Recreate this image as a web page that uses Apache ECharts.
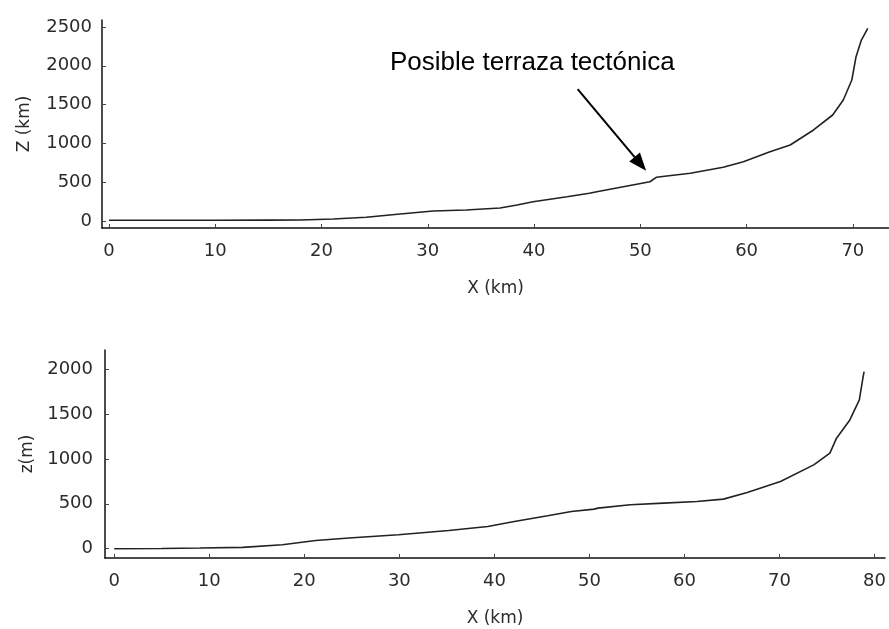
<!DOCTYPE html>
<html>
<head>
<meta charset="utf-8">
<script src="https://cdn.jsdelivr.net/npm/echarts@6/dist/echarts.min.js"></script>
<style>
  html, body { margin: 0; padding: 0; background: #fff; }
  #chart { width: 889px; height: 629px; }
</style>
</head>
<body>
<div id="chart"></div>
<script>
// Longitudinal profile 1: distance along the channel (km) and elevation
const profileTopX = [0, 5, 10, 15, 18.0, 21.1, 24.2, 27.4, 30.5, 33.6, 36.8, 38.4, 39.9, 43.1, 45.2, 45.9, 48.4, 50.9, 51.5, 54.7, 57.8, 59.7, 62.2, 64.1, 66.3, 68.1, 69.1, 69.9, 70.3, 70.8, 71.4];
const profileTopZ = [10, 10, 10, 11, 13, 26, 48, 90, 129, 142, 168, 206, 249, 313, 357, 378, 442, 506, 563, 615, 692, 764, 893, 979, 1173, 1366, 1559, 1817, 2117, 2332, 2483];

// Longitudinal profile 2
const profileBottomX = [0, 5, 9.0, 13.5, 17.7, 21.2, 24.7, 29.9, 35.2, 39.3, 42.1, 45.6, 48.1, 50.5, 50.9, 54.3, 57.8, 61.3, 64.1, 66.6, 70.1, 73.6, 75.3, 76.0, 77.4, 78.4, 78.8, 78.9];
const profileBottomZ = [0, 3, 8, 15, 44, 92, 119, 156, 203, 248, 303, 367, 414, 441, 452, 489, 508, 526, 552, 626, 748, 933, 1063, 1230, 1433, 1656, 1915, 1970];

// Tick values
const topXTicks = [0, 10, 20, 30, 40, 50, 60, 70];
const topZTicks = [0, 500, 1000, 1500, 2000, 2500];
const bottomXTicks = [0, 10, 20, 30, 40, 50, 60, 70, 80];
const bottomZTicks = [0, 500, 1000, 1500, 2000];

// Annotation of the knickpoint
const noteText = 'Posible terraza tectónica';
const arrowFrom = [44.1, 1700];
const arrowTo = [50.0, 735];

const pair = (xs, ys) => xs.map((x, i) => [x, ys[i]]);

const labelStyle = { color: '#2b2b2b', fontFamily: 'DejaVu Sans', fontSize: 18, formatter: v => String(v) };
const nameStyle = { color: '#2b2b2b', fontFamily: 'DejaVu Sans', fontSize: 17 };

function xAxisCfg(gridIndex, min, max, ticks, gap, margin) {
  return {
    type: 'value', gridIndex, min, max,
    name: 'X (km)', nameLocation: 'middle', nameGap: gap, nameTextStyle: nameStyle,
    axisLine: { show: true, onZero: false, lineStyle: { color: '#111', width: 1.5 } },
    axisTick: { show: true, inside: true, length: 4, customValues: ticks, lineStyle: { color: '#444' } },
    axisLabel: { customValues: ticks, margin, ...labelStyle },
    splitLine: { show: false }
  };
}
function yAxisCfg(gridIndex, min, max, ticks, name, gap, margin) {
  return {
    type: 'value', gridIndex, min, max,
    name, nameLocation: 'middle', nameGap: gap, nameTextStyle: nameStyle,
    axisLine: { show: true, onZero: false, lineStyle: { color: '#111', width: 1.5 } },
    axisTick: { show: true, inside: true, length: 4, customValues: ticks, lineStyle: { color: '#444' } },
    axisLabel: { customValues: ticks, margin, ...labelStyle },
    splitLine: { show: false }
  };
}

const chart = echarts.init(document.getElementById('chart'), null, { renderer: 'canvas' });
chart.setOption({
  animation: false,
  backgroundColor: '#fff',
  grid: [
    { left: 102, top: 20, right: 0, bottom: 401, containLabel: false },
    { left: 105, top: 350, right: 0, bottom: 71, containLabel: false }
  ],
  xAxis: [
    xAxisCfg(0, -0.66, 73.4, topXTicks, 52, 14),
    xAxisCfg(1, -0.97, 81.1, bottomXTicks, 52, 14)
  ],
  yAxis: [
    yAxisCfg(0, -90, 2590, topZTicks, 'Z (km)', 69, 10),
    yAxisCfg(1, -103, 2211, bottomZTicks, 'z(m)', 69, 12)
  ],
  graphic: [{
    type: 'text', left: 390, top: 50,
    style: { text: noteText, fill: '#000', font: '26px "Liberation Sans", Arial, sans-serif' }
  }],
  series: [
    {
      type: 'line', xAxisIndex: 0, yAxisIndex: 0, data: pair(profileTopX, profileTopZ),
      showSymbol: false, lineStyle: { color: '#222', width: 1.6 },
      markLine: {
        silent: true, symbol: ['none', 'triangle'], symbolSize: [14, 18],
        lineStyle: { color: '#000', width: 2, type: 'solid' },
        label: { show: false },
        data: [[{ coord: arrowFrom }, { coord: arrowTo }]]
      }
    },
    {
      type: 'line', xAxisIndex: 1, yAxisIndex: 1, data: pair(profileBottomX, profileBottomZ),
      showSymbol: false, lineStyle: { color: '#222', width: 1.6 }
    }
  ]
});
</script>
</body>
</html>
